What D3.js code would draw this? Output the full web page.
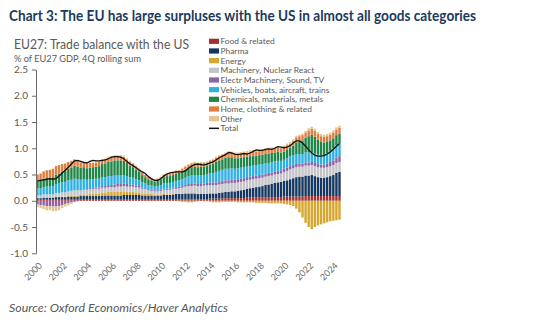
<!DOCTYPE html>
<html lang="en">
<head>
<meta charset="UTF-8">
<title>EU27: Trade balance with the US</title>
<style>
  body { margin: 0; background: #fff; }
  svg { display: block; }
  text { font-family: Lato, "Noto Sans", sans-serif; }
</style>
</head>
<body>
<script src="https://cdnjs.cloudflare.com/ajax/libs/d3/7.8.5/d3.min.js"></script>
<script>
const width = 539, height = 324;

// quarterly, 2000Q1 .. 2024Q3, % of EU27 GDP (4Q rolling sum)
const food = [
  .02,.02,.02,.02, .02,.02,.02,.02, .02,.02,.02,.02, .02,.02,.02,.02, .02,.02,.02,
  .02,.02,.02,.02, .02,.02,.02,.02, .02,.02,.02,.02, .02,.02,.02,.02, .02,.02,.02,.02,
  .02,.02,.02,.02, .02,.02,.03,.03, .03,.03,.03, .03,.03,.03,.03, .03,.03,.04,.04,
  .04,.04,.05,.05, .05,.05,.05,.05, .05,.05,.06,.06, .06,.06,.06,.06, .07,.07,.07,.07,
  .07,.07,.08,.08, .08,.08,.08, .08,.08,.09,.09, .09,.09,.09,.09, .09,.09,.09,.09, .09,.09
];
const pharma = [
  .03,.03,.04,.04, .04,.04,.05,.05, .05,.05,.06,.06, .06,.06,.07,.07, .07,.07,.07,
  .07,.07,.08,.08, .08,.08,.08,.08, .08,.09,.09,.09, .09,.09,.09,.08, .08,.08,.08,.07,
  .08,.08,.09,.09, .09,.10,.10,.10, .10,.11,.11, .11,.11,.10,.10, .10,.10,.10,.10,
  .10,.11,.11,.12, .12,.13,.13,.14, .15,.16,.17,.18, .19,.20,.21,.22, .23,.24,.25,.27,
  .28,.29,.30,.31, .33,.35,.37, .38,.38,.39,.39, .40,.38,.36,.35, .35,.36,.38,.40, .44,.46
];
const energy = [
  0,0,0,0, 0,0,.01,.01, .01,.01,.01,.02, .02,.02,.02,.03, .03,.04,.04,
  .05,.05,.06,.06, .07,.07,.07,.07, .07,.07,.06,.06, .06,.05,.05,.04, .04,.03,.03,.03,
  .02,.02,.02,.01, .01,.01,0,-.01, -.02,-.02,-.03, -.03,-.02,-.01,0, -.01,-.01,-.02,-.03,
  -.03,-.03,-.02,-.02, -.02,-.02,-.02,-.03, -.03,-.03,-.03,-.03, -.03,-.04,-.04,-.04, -.04,-.05,-.05,-.05,
  -.05,-.05,-.06,-.07, -.08,-.10,-.15, -.22,-.32,-.42,-.50, -.54,-.50,-.47,-.45, -.43,-.41,-.39,-.38, -.37,-.36
];
const machinery = [
  .05,.05,.06,.06, .06,.06,.07,.07, .08,.08,.09,.09, .10,.10,.09,.09, .09,.09,.09,
  .09,.09,.09,.09, .09,.09,.09,.10, .10,.10,.10,.10, .10,.10,.09,.09, .08,.07,.06,.06,
  .06,.07,.08,.09, .09,.10,.10,.11, .12,.13,.14, .14,.15,.15,.15, .16,.16,.16,.16,
  .16,.16,.16,.16, .16,.16,.16,.16, .16,.16,.16,.16, .16,.16,.16,.16, .16,.16,.16,.16,
  .16,.16,.17,.18, .19,.19,.19, .19,.19,.19,.19, .19,.19,.19,.19, .19,.19,.19,.19, .19,.19
];
const electr = [
  -.07,-.08,-.09,-.10, -.10,-.11,-.11,-.10, -.08,-.06,-.05,-.03, -.02,-.01,0,.01, .01,.02,.02,
  .02,.02,.03,.03, .04,.04,.05,.05, .05,.05,.05,.04, .04,.03,.03,.02, .02,.02,.02,.02,
  .02,.02,.02,.02, .02,.02,.03,.03, .03,.03,.04, .04,.04,.04,.04, .04,.05,.05,.05,
  .05,.05,.06,.06, .06,.06,.06,.06, .06,.06,.06,.06, .06,.06,.06,.06, .06,.06,.06,.06,
  .06,.06,.06,.06, .06,.06,.06, .06,.06,.06,.06, .06,.06,.06,.06, .06,.07,.08,.09, .10,.11
];
const vehicles = [
  .13,.14,.14,.15, .15,.16,.17,.18, .19,.20,.21,.21, .22,.21,.20,.19, .18,.17,.17,
  .17,.17,.17,.17, .17,.17,.17,.16, .16,.16,.15,.14, .13,.12,.11,.10, .09,.08,.08,.07,
  .08,.09,.10,.11, .11,.11,.12,.12, .13,.14,.15, .16,.16,.16,.17, .16,.16,.17,.18,
  .20,.21,.21,.22, .22,.22,.21,.21, .21,.21,.20,.20, .20,.20,.20,.20, .19,.19,.19,.19,
  .19,.18,.17,.18, .19,.19,.19, .18,.18,.19,.19, .19,.19,.18,.18, .18,.19,.21,.23, .24,.24
];
const chemicals = [
  .15,.15,.16,.16, .16,.17,.18,.19, .20,.21,.22,.23, .25,.24,.23,.23, .22,.22,.23,
  .23,.24,.25,.26, .27,.28,.29,.29, .29,.27,.25,.22, .20,.18,.16,.14, .12,.11,.10,.09,
  .10,.11,.12,.13, .13,.13,.14,.14, .14,.15,.15, .16,.16,.16,.16, .16,.16,.17,.18,
  .19,.20,.20,.21, .22,.21,.20,.19, .19,.19,.19,.19, .18,.18,.18,.18, .18,.18,.18,.17,
  .17,.16,.16,.17, .16,.18,.22, .24,.26,.28,.31, .33,.31,.28,.25, .24,.22,.20,.19, .19,.19
];
const home = [
  .12,.13,.14,.15, .16,.16,.16,.16, .15,.14,.13,.13, .12,.11,.10,.10, .09,.09,.08,
  .08,.08,.08,.08, .08,.08,.08,.08, .08,.08,.07,.07, .06,.06,.05,.05, .04,.04,.04,.04,
  .04,.04,.05,.05, .05,.05,.05,.05, .06,.06,.06, .07,.07,.07,.07, .07,.07,.07,.07,
  .08,.08,.08,.08, .08,.08,.08,.08, .08,.08,.08,.08, .08,.08,.08,.08, .08,.08,.08,.08,
  .08,.08,.08,.08, .08,.09,.10, .10,.10,.10,.11, .11,.11,.11,.11, .11,.11,.11,.11, .11,.11
];
const other = [
  -.05,-.06,-.07,-.08, -.08,-.09,-.09,-.08, -.06,-.05,-.04,-.03, -.01,0,.01,.01, .01,.01,.01,
  .02,.02,.02,.02, .02,.02,.02,.02, .02,.02,.02,.02, .02,.02,.02,.02, .01,.01,.01,.01,
  .01,.01,.01,.01, .01,.01,.01,.01, .02,.02,.02, .02,.02,.02,.02, .02,.02,.02,.02,
  .02,.02,.02,.02, .03,.03,.03,.03, .03,.03,.03,.03, .03,.03,.03,.03, .03,.03,.03,.03,
  .03,.03,.03,.03, .03,.03,.03, .03,.03,.03,.04, .04,.04,.04,.04, .04,.04,.04,.04, .04,.04
];
const total = [
  .38,.39,.40,.41, .42,.41,.42,.47, .53,.58,.64,.70, .76,.77,.75,.73, .72,.75,.77,
  .76,.76,.77,.78, .80,.83,.84,.84, .83,.80,.75,.70, .67,.63,.58,.55, .52,.46,.42,.39,
  .39,.42,.47,.51, .53,.54,.55,.55, .55,.57,.62, .66,.69,.70,.69, .68,.70,.72,.74,
  .78,.82,.85,.88, .92,.91,.89,.88, .89,.90,.89,.91, .94,.97,.96,.96, .98,.99,.98,1.00,
  1.03,1.02,1.01,1.02, 1.05,1.10,1.14, 1.14,1.10,1.04,.97, .91,.87,.85,.85, .86,.89,.93,.98, 1.04,1.09
];

const seriesNames = ["Food & related", "Pharma", "Energy", "Machinery, Nuclear React",
  "Electr Machinery, Sound, TV", "Vehicles, boats, aircraft, trains",
  "Chemicals, materials, metals", "Home, clothing & related", "Other"];
const seriesValues = [food, pharma, energy, machinery, electr, vehicles, chemicals, home, other];
const colors = ["#a52f2d", "#15375f", "#d6a62e", "#c3c3c8", "#9063a6",
  "#31b0e0", "#1f8548", "#e07c3e", "#e5c390"];
const yTicks = [-1.0, -0.5, 0.0, 0.5, 1.0, 1.5, 2.0, 2.5];

// quarter labels 2000Q1 ..
const quarters = total.map((d, i) => (2000 + Math.floor(i / 4)) + "Q" + (i % 4 + 1));
const rows = quarters.map((q, i) => {
  const r = {q: q, total: total[i]};
  seriesNames.forEach((s, j) => r[s] = seriesValues[j][i]);
  return r;
});

const svg = d3.select("body").append("svg")
  .attr("width", width).attr("height", height)
  .style("background", "#fff");

const x = d3.scaleBand().domain(quarters).range([36, 341]).paddingInner(0.22).paddingOuter(0.1);
const y = d3.scaleLinear().domain([-1, 2.5]).range([253.3, 69.5]);

const stacked = d3.stack().keys(seriesNames).offset(d3.stackOffsetDiverging)(rows);

svg.append("g").selectAll("g")
  .data(stacked)
  .join("g")
    .attr("fill", (d, i) => colors[i])
  .selectAll("rect")
  .data(d => d)
  .join("rect")
    .attr("x", d => x(d.data.q))
    .attr("width", x.bandwidth())
    .attr("y", d => y(Math.max(d[0], d[1])))
    .attr("height", d => Math.abs(y(d[0]) - y(d[1])));

svg.append("path")
  .datum(rows)
  .attr("fill", "none")
  .attr("stroke", "#111")
  .attr("stroke-width", 1.3)
  .attr("d", d3.line().x(d => x(d.q) + x.bandwidth() / 2).y(d => y(d.total)));

// y axis
const yAxis = svg.append("g")
  .attr("transform", "translate(36,0)")
  .call(d3.axisLeft(y).tickValues(yTicks).tickSize(4).tickSizeOuter(0).tickPadding(4)
    .tickFormat(d => d.toFixed(1)));
yAxis.select(".domain").attr("stroke", "#6b6b6b");
yAxis.selectAll(".tick line").attr("stroke", "#6b6b6b");
yAxis.selectAll("text").attr("fill", "#595959").style("font-size", "10px")
  .style("font-family", "Lato, sans-serif");

// x axis labels (every 2 years)
const xAxis = svg.append("g")
  .attr("transform", "translate(0,255)")
  .call(d3.axisBottom(x).tickValues(quarters.filter((q, i) => i % 8 === 0))
    .tickSize(0).tickFormat(q => q.slice(0, 4)));
xAxis.select(".domain").remove();
xAxis.selectAll("text")
  .attr("fill", "#6b6b6b")
  .style("font-size", "9px")
  .style("font-family", "Lato, sans-serif")
  .attr("text-anchor", "end")
  .attr("x", 0).attr("y", 0).attr("dy", "0.35em")
  .attr("transform", "translate(3,9) rotate(-45)");

// legend
const legend = svg.append("g").selectAll("g")
  .data(seriesNames.concat(["Total"]))
  .join("g")
    .attr("transform", (d, i) => `translate(209,${41.3 + i * 9.67})`);
legend.filter(d => d !== "Total").append("rect")
  .attr("x", 0).attr("y", -2.6).attr("width", 10).attr("height", 5.2)
  .attr("fill", (d, i) => colors[i]);
legend.filter(d => d === "Total").append("line")
  .attr("x1", 0).attr("x2", 10).attr("stroke", "#111").attr("stroke-width", 1.5);
legend.append("text")
  .attr("x", 11.5).attr("dy", "0.35em")
  .attr("fill", "#595959")
  .style("font-size", "8.4px")
  .text(d => d);

// titles
svg.append("text")
  .attr("x", 9).attr("y", 21)
  .attr("fill", "#1b3a5c")
  .style("font-family", "'Liberation Sans Narrow', Lato, sans-serif")
  .style("font-weight", 700)
  .style("font-size", "14.5px")
  .attr("textLength", 467).attr("lengthAdjust", "spacingAndGlyphs")
  .text("Chart 3: The EU has large surpluses with the US in almost all goods categories");

svg.append("text")
  .attr("x", 14).attr("y", 49)
  .attr("fill", "#595959")
  .style("font-size", "13px")
  .attr("textLength", 175).attr("lengthAdjust", "spacingAndGlyphs")
  .text("EU27: Trade balance with the US");

svg.append("text")
  .attr("x", 14).attr("y", 61.5)
  .attr("fill", "#595959")
  .style("font-size", "8.6px")
  .attr("textLength", 127).attr("lengthAdjust", "spacingAndGlyphs")
  .text("% of EU27 GDP, 4Q rolling sum");

svg.append("text")
  .attr("x", 9).attr("y", 312)
  .attr("fill", "#595959")
  .style("font-style", "italic")
  .style("font-size", "12px")
  .attr("textLength", 219).attr("lengthAdjust", "spacingAndGlyphs")
  .text("Source: Oxford Economics/Haver Analytics");
</script>
</body>
</html>
